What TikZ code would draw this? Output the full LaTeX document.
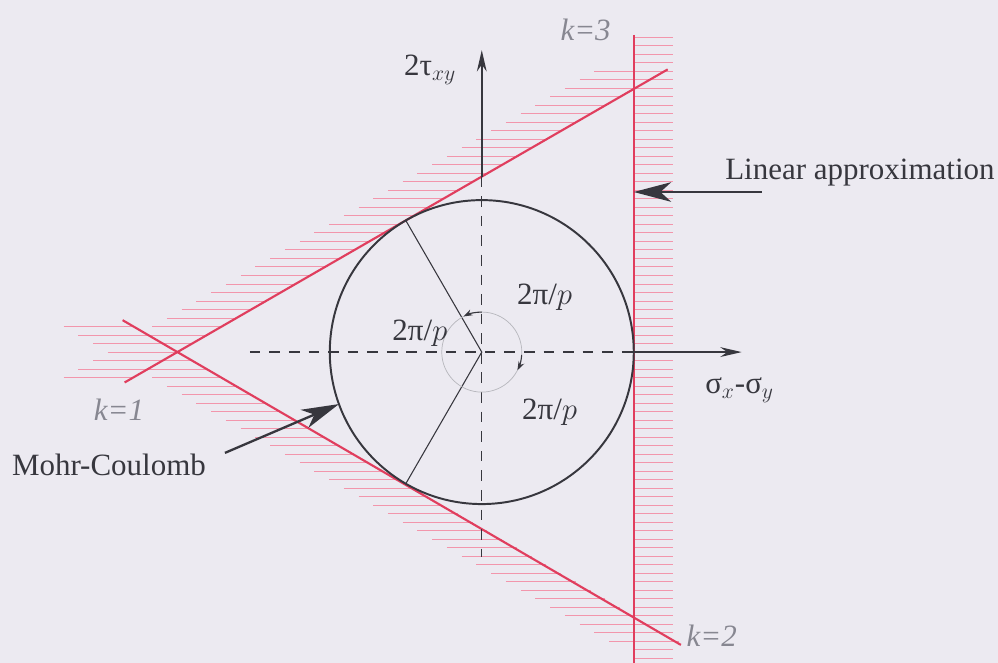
\RequirePackage{fix-cm}
\documentclass[tikz,border=0pt]{standalone}
\usepackage{fontspec}
\setmainfont{Liberation Serif}
\usetikzlibrary{arrows.meta, calc}
\definecolor{mcred}{RGB}{224,62,94}
\definecolor{hatchred}{RGB}{242,150,172}
\definecolor{inkgray}{RGB}{55,55,62}
\definecolor{labgray}{RGB}{135,135,145}
\definecolor{paper}{RGB}{236,234,241}
\tikzset{
  yieldline/.style={mcred, line width=1.2pt},
  hatch/.style={hatchred, line width=0.55pt},
  axis/.style={inkgray, line width=1pt, -{Stealth[length=12pt, width=5.5pt]}},
  dashaxis/.style={inkgray, line width=0.8pt, dash pattern=on 6pt off 5pt},
  pointer/.style={inkgray, line width=1.3pt, -{Stealth[length=21pt, width=11pt, inset=6pt]}},
  lab/.style={inkgray, font=\fontsize{17.4}{21}\selectfont},
  klab/.style={labgray, font=\fontsize{17.4}{21}\selectfont\itshape},
}

\begin{document}
\begin{tikzpicture}
  % Paper
  \fill[paper] (-9.51,-6.13) rectangle (10.19,6.95);
  \useasboundingbox (-9.51,-6.13) rectangle (10.19,6.95);

  % Points on the Mohr circle
  \coordinate (O) at (0,0);
  \coordinate (T0) at (0:3);
  \coordinate (T1) at (120:3);
  \coordinate (T2) at (240:3);

  % --- HATCHING (outside of each constraint) ---
  % k=1 side
  \foreach \j in {-3,...,33} {
    \pgfmathsetmacro\hy{\j*0.168}
    \pgfmathsetmacro\hx{1.7321*\hy-6}
    \draw[hatch] (\hx-1.38,\hy) -- (\hx,\hy);
  }
  % k=2 side
  \foreach \j in {-34,...,3} {
    \pgfmathsetmacro\hy{\j*0.168}
    \pgfmathsetmacro\hx{-1.7321*\hy-6}
    \draw[hatch] (\hx-1.38,\hy) -- (\hx,\hy);
  }
  % k=3 side
  \foreach \j in {-36,...,37} {
    \pgfmathsetmacro\hy{\j*0.168}
    \draw[hatch] (3,\hy) -- (3.77,\hy);
  }

  % --- LINEAR APPROXIMATION ---
  \coordinate (L1a) at (-7.05,-0.60);
  \coordinate (L1b) at (3.67,5.58);
  \coordinate (L2a) at (-7.09,0.63);
  \coordinate (L2b) at (3.93,-5.78);
  \coordinate (L3a) at (3,6.26);
  \coordinate (L3b) at (3,-6.13);
  \draw[yieldline] (L1a) -- (L1b);
  \draw[yieldline] (L2a) -- (L2b);
  \draw[yieldline] (L3a) -- (L3b);

  % Axes
  \coordinate (Ycut) at (0,3.464);
  \coordinate (Ytop) at (0,5.96);
  \coordinate (Ybot) at (0,-4.05);
  \coordinate (Xleft) at (-4.58,0);
  \coordinate (Xright) at (5.13,0);
  \draw[dashaxis] (Ycut) -- (Ybot);
  \draw[dashaxis] (Xleft) -- (T0);
  \draw[axis] (Ycut) -- (Ytop);
  \draw[axis] (T0) -- (Xright);

  % Mohr-Coulomb circle and sectors
  \draw[inkgray, line width=1.1pt] (O) circle (3);
  \draw[inkgray, line width=0.6pt] (T1) -- (O) -- (T2);
  \draw[labgray!60, line width=0.4pt] (O) circle (0.79);
  \draw[inkgray, line width=0.6pt, -{Stealth[length=5pt, width=3.5pt]}]
    ($(O)+(90:0.79)$) arc[start angle=90, end angle=117, radius=0.79];
  \draw[inkgray, line width=0.6pt, -{Stealth[length=5pt, width=3.5pt]}]
    ($(O)+(-4:0.79)$) arc[start angle=-4, end angle=-27, radius=0.79];

  % Labels
  \node[lab] (tau) at (-1.02,5.57) {2τ$_{xy}$};
  \node[lab] (sig) at (5.09,-0.75) {σ$_x$-σ$_y$};
  \node[lab] (secA) at (1.24,1.09) {2π/$p$};
  \node[lab] (secB) at (-1.22,0.37) {2π/$p$};
  \node[lab] (secC) at (1.34,-1.18) {2π/$p$};
  \node[klab] (k3) at (2.05,6.35) {k=3};
  \node[klab] (k1) at (-7.16,-1.14) {k=1};
  \node[klab] (k2) at (4.54,-5.59) {k=2};

  % Pointers
  \node[lab, anchor=west, inner sep=0pt] (lin) at (4.80,3.55) {Linear approximation};
  \coordinate (linTail) at (5.53,3.16);
  \draw[pointer] (linTail) -- (3,3.16);
  \node[lab, anchor=west, inner sep=0pt] (mc) at (-9.28,-2.23) {Mohr-Coulomb};
  \coordinate (mcTail) at (-5.07,-1.99);
  \draw[pointer] (mcTail) -- (200:3);
\end{tikzpicture}
\end{document}
